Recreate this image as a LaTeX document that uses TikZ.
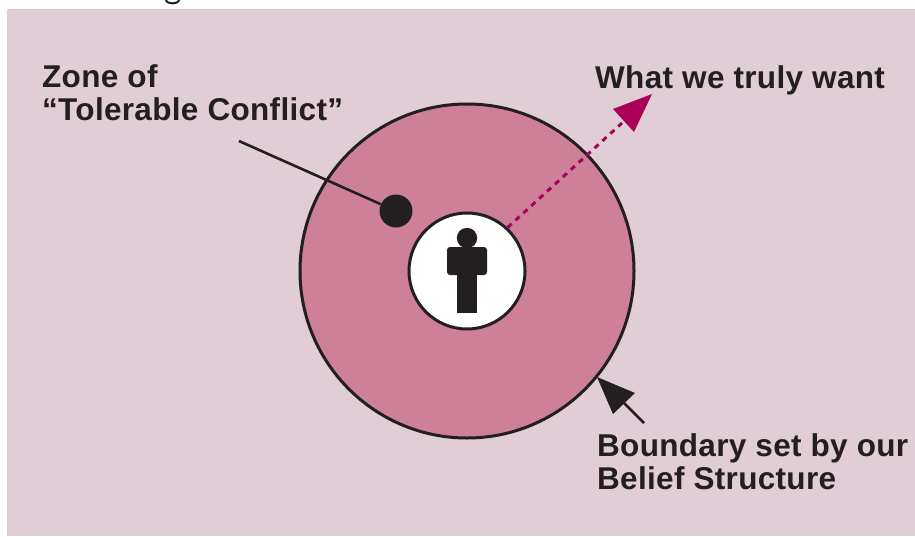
\documentclass[tikz,border=0pt]{standalone}
\usepackage{fontspec}
\setmainfont{Liberation Sans}[LetterSpace=1]
\definecolor{bgpink}{RGB}{224,205,213}
\definecolor{zonepink}{RGB}{206,128,153}
\definecolor{ink}{RGB}{35,31,32}
\definecolor{magentaarrow}{RGB}{170,0,88}
\tikzset{
  label text/.style={font=\fontsize{31.5}{32.5}\selectfont\bfseries, text=ink, anchor=north west, align=left, inner sep=0pt},
  ring/.style={circle, draw=ink, line width=3pt, inner sep=0pt, minimum size=#1},
  leader/.style={draw=ink, line width=2.6pt},
  wantline/.style={draw=magentaarrow, line width=3pt, dash pattern=on 5.5pt off 5.2pt}
}
\begin{document}
\begin{tikzpicture}[x=1pt,y=-1pt]
\useasboundingbox (0,0) rectangle (915,536);
\fill[white] (0,0) rectangle (915,536);
\fill[bgpink] (7,9) rectangle (915,536);
% clipped descender of text above the panel
\draw[ink, line width=2pt] (165.5,0) .. controls (167,4.5) and (178,4.5) .. (179.5,0);
% rings
\node[ring=334pt, fill=zonepink] (outer) at (467,271) {};
\coordinate (wanttip) at (652,94);
\coordinate (wantend) at (622,123);
\node[ring=116pt, fill=white] (inner) at (467,271) {};
\draw[wantline] (inner.47) -- (wantend);
\fill[magentaarrow] (wanttip) -- (613,109) -- (634,132) -- cycle;
% person
\fill[ink] (467,238) circle (10.2);
\fill[ink, rounded corners=3pt] (447,275) -- (447,247) -- (487,247) -- (487,275) -- cycle;
\fill[ink] (457,270) rectangle (477,313);
% zone marker
\node[circle, fill=ink, inner sep=0pt, minimum size=33pt] (dot) at (396,211) {};
\coordinate (zonestart) at (239,141);
\draw[leader] (zonestart) -- (dot);
% boundary arrow
\coordinate (boundtail) at (644,423);
\coordinate (boundtip) at (597,377);
\draw[leader] (boundtail) -- (622,401);
\fill[ink] (boundtip) -- (635,393) -- (613,414) -- cycle;
% labels
\node[label text] (zone) at (42,64.5) {Zone of\\“Tolerable Conflict”};
\node[label text] (want) at (595,65.5) {What we truly want};
\node[label text] (bound) at (597,433.5) {Boundary set by our\\Belief Structure};
\end{tikzpicture}
\end{document}
